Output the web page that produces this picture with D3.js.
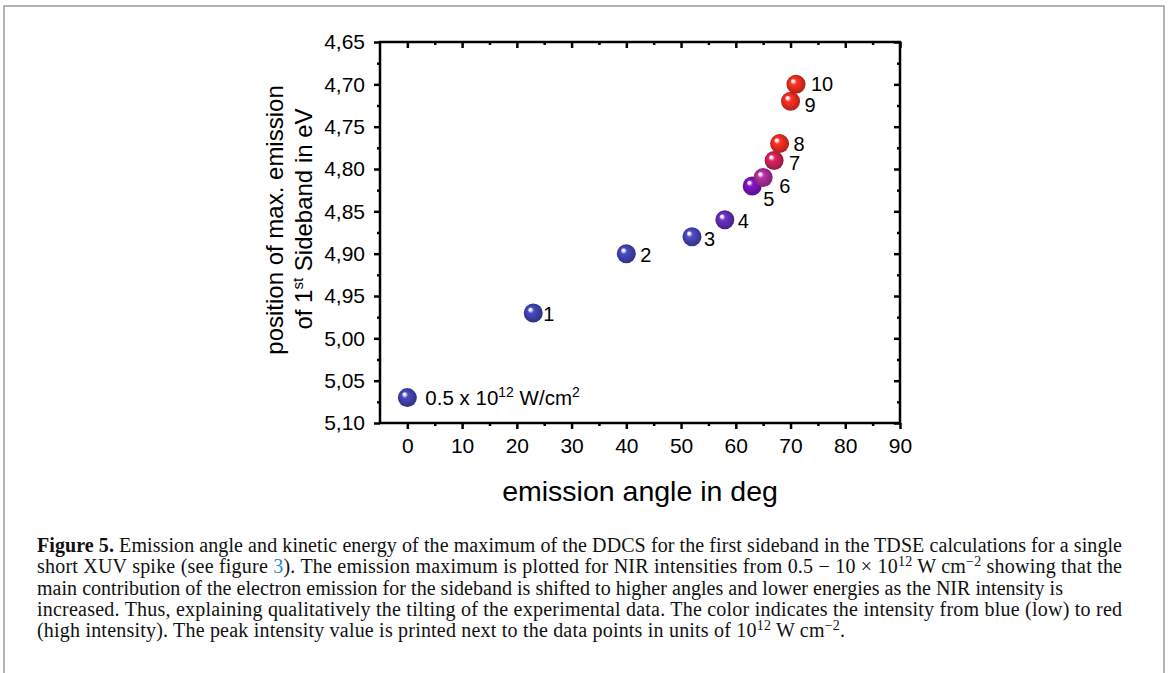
<!DOCTYPE html>
<html>
<head>
<meta charset="utf-8">
<script src="https://cdnjs.cloudflare.com/ajax/libs/d3/7.8.5/d3.min.js"></script>
<style>
  body { margin: 0; background: #fff; }
  svg { display: block; }
  .tick text { font-family: "Liberation Sans", Arial, sans-serif; }
</style>
</head>
<body>
<div id="chart"></div>
<script>
// data
var angles = [23, 40, 52, 58, 63, 65, 67, 68, 70, 71];
var energies = [4.97, 4.90, 4.88, 4.86, 4.82, 4.81, 4.79, 4.77, 4.72, 4.70];
var intensities = ["1", "2", "3", "4", "5", "6", "7", "8", "9", "10"];
var pointColors = ["#3d3fa6", "#3d3fa6", "#4240a8", "#5a2ba8", "#7211ae", "#9e2a8e", "#c01f50", "#de2a1e", "#de2a1e", "#de2a1e"];
// label nudges (px) so the numbers sit where they do in the figure
var labelDx = [10, 14, 12, 13, 11, 16, 15, 14, 14, 15];
var labelDy = [1, 1, 2, 1, 13, 8, 2, 0, 4, -1];

var legendAngle = 0;
var legendEnergy = 5.07;

var xMajor = [0, 10, 20, 30, 40, 50, 60, 70, 80, 90];
var xMinor = [5, 15, 25, 35, 45, 55, 65, 75, 85];
var yMajor = [4.65, 4.70, 4.75, 4.80, 4.85, 4.90, 4.95, 5.00, 5.05, 5.10];
var yMinor = [4.675, 4.725, 4.775, 4.825, 4.875, 4.925, 4.975, 5.025, 5.075];

var W = 1170, H = 673;
var pLeft = 380, pRight = 900, pTop = 42, pBottom = 423;

var svg = d3.select("#chart")
    .append("svg")
    .attr("width", W)
    .attr("height", H);

// page frame
svg.append("rect")
    .attr("x", 4).attr("y", 6)
    .attr("width", 1160).attr("height", 720)
    .attr("fill", "none")
    .attr("stroke", "#9a9a9a")
    .attr("stroke-width", 1.5);

var x = d3.scaleLinear().domain([-5, 90]).range([pLeft, pRight]);
var y = d3.scaleLinear().domain([4.65, 5.10]).range([pTop, pBottom]);

var comma = function(d) { return d3.format(".2f")(d).replace(".", ","); };

function styleAxis(g) {
    g.select(".domain").remove();
    g.selectAll(".tick line").attr("stroke", "#000").attr("stroke-width", 2.5);
    g.selectAll(".tick text").attr("fill", "#000").attr("font-size", 21);
}

// bottom
svg.append("g").attr("transform", "translate(0," + pBottom + ")")
    .call(d3.axisBottom(x).tickValues(xMajor).tickSize(6).tickPadding(9).tickFormat(d3.format("d")))
    .call(styleAxis);
svg.append("g").attr("transform", "translate(0," + pBottom + ")")
    .call(d3.axisBottom(x).tickValues(xMinor).tickSize(3).tickFormat(""))
    .call(styleAxis);
// left
svg.append("g").attr("transform", "translate(" + pLeft + ",0)")
    .call(d3.axisLeft(y).tickValues(yMajor).tickSize(6).tickPadding(9).tickFormat(comma))
    .call(styleAxis);
svg.append("g").attr("transform", "translate(" + pLeft + ",0)")
    .call(d3.axisLeft(y).tickValues(yMinor).tickSize(3).tickFormat(""))
    .call(styleAxis);
// top + right, ticks pointing in
svg.append("g").attr("transform", "translate(0," + pTop + ")")
    .call(d3.axisTop(x).tickValues(xMajor).tickSize(-6).tickFormat(""))
    .call(styleAxis);
svg.append("g").attr("transform", "translate(0," + pTop + ")")
    .call(d3.axisTop(x).tickValues(xMinor).tickSize(-3).tickFormat(""))
    .call(styleAxis);
svg.append("g").attr("transform", "translate(" + pRight + ",0)")
    .call(d3.axisRight(y).tickValues(yMajor).tickSize(-6).tickFormat(""))
    .call(styleAxis);
svg.append("g").attr("transform", "translate(" + pRight + ",0)")
    .call(d3.axisRight(y).tickValues(yMinor).tickSize(-3).tickFormat(""))
    .call(styleAxis);

// plot frame
svg.append("rect")
    .attr("x", pLeft).attr("y", pTop)
    .attr("width", pRight - pLeft).attr("height", pBottom - pTop)
    .attr("fill", "none")
    .attr("stroke", "#000")
    .attr("stroke-width", 2.5);

// sphere look
var defs = svg.append("defs");
pointColors.forEach(function(c, i) {
    var base = d3.color(c);
    var g = defs.append("radialGradient")
        .attr("id", "ball" + i)
        .attr("cx", "50%").attr("cy", "50%").attr("r", "55%")
        .attr("fx", "32%").attr("fy", "30%");
    g.append("stop").attr("offset", "0%").attr("stop-color", "#ffffff");
    g.append("stop").attr("offset", "12%").attr("stop-color", "#f4eefa");
    g.append("stop").attr("offset", "30%").attr("stop-color", base.brighter(0.5).formatHex());
    g.append("stop").attr("offset", "60%").attr("stop-color", c);
    g.append("stop").attr("offset", "100%").attr("stop-color", base.darker(0.8).formatHex());
});

svg.selectAll("circle.pt")
    .data(angles)
    .enter()
    .append("circle")
    .attr("class", "pt")
    .attr("cx", function(d) { return x(d); })
    .attr("cy", function(d, i) { return y(energies[i]); })
    .attr("r", 9.5)
    .attr("fill", function(d, i) { return "url(#ball" + i + ")"; });

svg.selectAll("text.lbl")
    .data(angles)
    .enter()
    .append("text")
    .attr("class", "lbl")
    .attr("x", function(d, i) { return x(d) + labelDx[i]; })
    .attr("y", function(d, i) { return y(energies[i]) + labelDy[i]; })
    .attr("dy", "0.36em")
    .attr("font-family", "Liberation Sans, Arial, sans-serif")
    .attr("font-size", 20)
    .text(function(d, i) { return intensities[i]; });

// legend-ish marker for the lowest intensity
svg.append("circle")
    .attr("cx", x(legendAngle))
    .attr("cy", y(legendEnergy))
    .attr("r", 9.5)
    .attr("fill", "url(#ball0)");
var lg = svg.append("text")
    .attr("x", x(legendAngle) + 18)
    .attr("y", y(legendEnergy))
    .attr("dy", "0.36em")
    .attr("font-family", "Liberation Sans, Arial, sans-serif")
    .attr("font-size", 20.5);
lg.append("tspan").text("0.5 x 10");
lg.append("tspan").attr("font-size", 14).attr("dy", -8).text("12");
lg.append("tspan").attr("dy", 8).text(" W/cm");
lg.append("tspan").attr("font-size", 14).attr("dy", -8).text("2");

// axis titles
svg.append("text")
    .attr("x", 640).attr("y", 501)
    .attr("text-anchor", "middle")
    .attr("font-family", "Liberation Sans, Arial, sans-serif")
    .attr("font-size", 28.5)
    .text("emission angle in deg");

svg.append("text")
    .attr("transform", "translate(283,220) rotate(-90)")
    .attr("text-anchor", "middle")
    .attr("font-family", "Liberation Sans, Arial, sans-serif")
    .attr("font-size", 24)
    .text("position of max. emission");
var yt2 = svg.append("text")
    .attr("transform", "translate(312,219) rotate(-90)")
    .attr("text-anchor", "middle")
    .attr("font-family", "Liberation Sans, Arial, sans-serif")
    .attr("font-size", 24);
yt2.append("tspan").text("of 1");
yt2.append("tspan").attr("font-size", 15).attr("dy", -9).text("st");
yt2.append("tspan").attr("dy", 9).text(" Sideband in eV");

// caption
var capX = 37;
var capY = [552, 573, 595, 616, 637];
var capW = [1085, 1085, 1026, 1085, 808];
var cap = svg.append("g")
    .attr("font-family", "Liberation Serif, Times New Roman, serif")
    .attr("font-size", 20)
    .attr("fill", "#111");

function capLine(i) {
    return cap.append("text")
        .attr("x", capX).attr("y", capY[i])
        .attr("textLength", capW[i])
        .attr("lengthAdjust", "spacing");
}
var l1 = capLine(0);
l1.append("tspan").attr("font-weight", "bold").text("Figure 5.");
l1.append("tspan").text(" Emission angle and kinetic energy of the maximum of the DDCS for the first sideband in the TDSE calculations for a single");

var l2 = capLine(1);
l2.append("tspan").text("short XUV spike (see figure ");
l2.append("tspan").attr("fill", "#2a8ac8").text("3");
l2.append("tspan").text("). The emission maximum is plotted for NIR intensities from 0.5 \u2212 10 \u00d7 10");
l2.append("tspan").attr("font-size", 14).attr("dy", -7).text("12");
l2.append("tspan").attr("dy", 7).text(" W cm");
l2.append("tspan").attr("font-size", 14).attr("dy", -7).text("\u22122");
l2.append("tspan").attr("dy", 7).text(" showing that the");

capLine(2).text("main contribution of the electron emission for the sideband is shifted to higher angles and lower energies as the NIR intensity is");
capLine(3).text("increased. Thus, explaining qualitatively the tilting of the experimental data. The color indicates the intensity from blue (low) to red");

var l5 = capLine(4);
l5.append("tspan").text("(high intensity). The peak intensity value is printed next to the data points in units of 10");
l5.append("tspan").attr("font-size", 14).attr("dy", -7).text("12");
l5.append("tspan").attr("dy", 7).text(" W cm");
l5.append("tspan").attr("font-size", 14).attr("dy", -7).text("\u22122");
l5.append("tspan").attr("dy", 7).text(".");
</script>
</body>
</html>
